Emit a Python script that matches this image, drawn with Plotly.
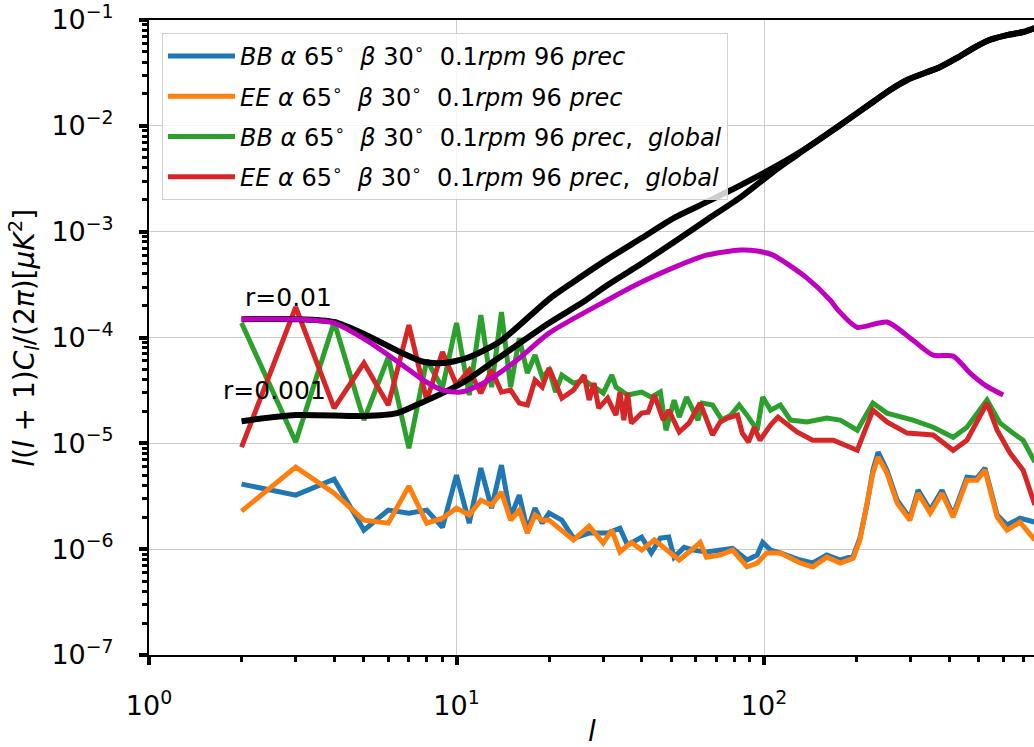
import plotly.graph_objects as go
import math

# ---------------- data ----------------
l_lo = list(range(2, 21))

bb_l = l_lo + [22, 24, 27, 31, 34, 36, 40, 43, 46, 49, 51, 55, 59, 65, 72, 79, 88, 95, 99, 105,
               113, 131, 144, 160, 177, 195, 205, 216, 226, 235, 251, 271, 298, 317, 347, 379,
               412, 457, 493, 523, 573, 617, 680, 760]
bb_v = [4.12e-6, 3.24e-6, 4.59e-6, 1.51e-6, 2.34e-6, 2.19e-6, 2.34e-6, 1.61e-6, 5.01e-6, 1.76e-6,
        5.83e-6, 2.44e-6, 6.22e-6, 2.01e-6, 3.24e-6, 1.51e-6, 2.44e-6, 1.76e-6, 2.19e-6,
        1.88e-6, 1.27e-6, 1.42e-6, 1.42e-6, 1.58e-6, 1.09e-6, 1.30e-6, 9.2e-7, 1.27e-6, 1.30e-6,
        8.4e-7, 1.04e-6, 9.8e-7, 9.4e-7, 9.8e-7, 1.02e-6, 7.9e-7, 8.8e-7, 1.16e-6, 9.8e-7,
        9.2e-7, 7.9e-7, 7.4e-7, 8.8e-7, 7.9e-7, 8.6e-7, 1.27e-6, 2.61e-6, 5.58e-6, 8.25e-6,
        5.58e-6, 2.90e-6, 1.96e-6, 3.61e-6, 2.34e-6, 3.61e-6, 2.10e-6, 4.79e-6, 4.69e-6,
        5.83e-6, 2.10e-6, 1.69e-6, 1.96e-6, 1.80e-6]

ee_l = l_lo + [24, 27, 30, 32, 34, 37, 40, 44, 48, 53, 59, 62, 65, 72, 79, 88, 95, 102, 113,
               131, 144, 160, 177, 195, 205, 216, 226, 235, 251, 271, 298, 317, 347, 379, 412,
               457, 493, 523, 573, 617, 680, 760]
ee_v = [2.29e-6, 5.96e-6, 3.38e-6, 1.88e-6, 1.76e-6, 3.94e-6, 1.76e-6, 1.96e-6, 2.44e-6, 2.10e-6,
        2.90e-6, 2.61e-6, 3.46e-6, 1.88e-6, 2.34e-6, 1.42e-6, 2.10e-6, 1.88e-6, 1.88e-6,
        1.22e-6, 1.65e-6, 1.14e-6, 1.51e-6, 9.4e-7, 1.16e-6, 9.8e-7, 1.22e-6, 9.8e-7, 7.9e-7,
        1.02e-6, 1.16e-6, 8.4e-7, 8.8e-7, 9.8e-7, 6.8e-7, 7.4e-7, 9.2e-7, 9.2e-7, 7.4e-7,
        6.8e-7, 8.4e-7, 7.4e-7, 8.2e-7, 1.22e-6, 2.49e-6, 5.23e-6, 7.41e-6, 5.23e-6, 2.72e-6,
        1.88e-6, 3.38e-6, 2.19e-6, 3.38e-6, 2.01e-6, 4.49e-6, 4.49e-6, 5.58e-6, 2.01e-6,
        1.51e-6, 1.80e-6, 1.22e-6]

bbg_l = l_lo + [21, 22, 24, 26, 28, 30, 32, 33, 36, 40, 43, 46, 48, 51, 53, 56, 61, 63, 68, 73,
                78, 83, 89, 95, 99, 105, 113, 122, 138, 160, 177, 201, 226, 251, 305, 355, 412,
                457, 531, 586, 645, 696, 760]
bbg_v = [1.37e-4, 1.03e-5, 1.40e-4, 1.66e-5, 6.53e-5, 9.0e-6, 6.11e-5, 3.33e-5, 1.37e-4, 2.86e-5,
         1.63e-4, 3.40e-5, 1.74e-4, 3.40e-5, 9.87e-5, 4.61e-5, 6.82e-5, 4.22e-5, 4.92e-5,
         3.05e-5, 4.41e-5, 3.71e-5, 3.95e-5, 3.40e-5, 2.98e-5, 4.41e-5, 3.40e-5, 2.86e-5,
         3.05e-5, 2.73e-5, 3.05e-5, 1.33e-5, 2.56e-5, 1.77e-5, 2.73e-5, 1.66e-5, 2.40e-5,
         2.30e-5, 1.66e-5, 1.85e-5, 2.30e-5, 1.77e-5, 1.33e-5, 2.73e-5, 2.06e-5, 2.30e-5,
         1.66e-5, 1.59e-5, 1.73e-5, 1.66e-5, 1.33e-5, 2.40e-5, 1.93e-5, 1.66e-5, 1.42e-5,
         1.14e-5, 1.42e-5, 2.56e-5, 1.55e-5, 1.25e-5, 1.07e-5, 6.64e-6]

eeg_l = l_lo[:-1] + [20, 21, 22, 24, 26, 27, 28, 29, 31, 33, 34, 35, 36, 37, 40, 42, 44, 47, 49,
                     53, 57, 62, 66, 68, 72, 76, 82, 85, 89, 93, 97, 105, 111, 128, 144, 168,
                     201, 226, 251, 292, 355, 412, 457, 531, 573, 631, 696, 760]
eeg_v = [9.2e-6, 1.94e-4, 2.15e-5, 5.73e-5, 2.30e-5, 1.31e-4, 2.56e-5, 7.28e-5, 3.55e-5, 4.92e-5,
         2.98e-5, 4.92e-5, 3.05e-5, 3.18e-5, 2.40e-5, 2.30e-5, 3.95e-5, 3.40e-5,
         5.14e-5, 3.55e-5, 2.67e-5, 3.18e-5, 4.41e-5, 2.56e-5, 3.71e-5, 2.15e-5, 2.67e-5,
         1.85e-5, 3.05e-5, 1.66e-5, 2.98e-5, 1.55e-5, 1.93e-5, 1.97e-5, 2.86e-5, 1.66e-5,
         2.06e-5, 1.28e-5, 1.55e-5, 2.40e-5, 1.55e-5, 1.20e-5, 1.59e-5, 1.73e-5, 1.85e-5,
         1.25e-5, 1.03e-5, 1.42e-5, 1.07e-5, 1.49e-5, 1.77e-5, 1.28e-5, 1.07e-5, 1.07e-5,
         8.6e-6, 2.06e-5, 1.59e-5, 1.25e-5, 1.20e-5, 8.6e-6, 1.07e-5, 2.40e-5, 1.33e-5,
         8.1e-6, 5.58e-6, 2.61e-6]

# theory BB, r = 0.01 (lensing + tensor)
r01_l = [2, 3, 4, 5.1, 6.55, 7.8, 9, 10.8, 13.8, 20, 24, 31, 40, 51, 65, 84, 107, 138, 177,
         226, 257, 292, 374, 424, 478, 543, 617, 696, 760]
r01_v = [1.49e-4, 1.49e-4, 1.40e-4, 1.05e-4, 7.3e-5, 5.9e-5, 5.73e-5, 6.4e-5, 9.1e-5, 2.31e-4,
         3.35e-4, 5.5e-4, 8.7e-4, 1.35e-3, 1.9e-3, 2.75e-3, 4.0e-3, 6.2e-3, 1.02e-2, 1.68e-2,
         2.18e-2, 2.71e-2, 3.6e-2, 4.38e-2, 5.4e-2, 6.5e-2, 7.2e-2, 7.7e-2, 8.4e-2]

# theory BB, r = 0.001 (lensing + tensor)
r001_l = [2, 3, 5, 6.4, 7.4, 9, 10.8, 13.8, 20, 25.8, 31, 40, 51, 65, 84, 107, 124, 138, 177,
          226, 257, 292, 374, 424, 478, 543, 617, 696, 760]
r001_v = [1.62e-5, 1.85e-5, 1.81e-5, 1.93e-5, 2.3e-5, 2.98e-5, 3.95e-5, 6.5e-5, 1.37e-4,
          2.16e-4, 3.13e-4, 5.0e-4, 8.0e-4, 1.29e-3, 2.12e-3, 3.66e-3, 4.97e-3, 6.2e-3, 1.02e-2,
          1.68e-2, 2.18e-2, 2.71e-2, 3.6e-2, 4.38e-2, 5.4e-2, 6.5e-2, 7.2e-2, 7.7e-2, 8.4e-2]

# primordial tensor BB, r = 0.01
tens_l = [2, 3, 4, 5.1, 6.55, 7.8, 9, 10.3, 12.2, 15.7, 20, 31, 40, 51, 65, 84, 95, 107, 138,
          164, 174, 201, 251, 305, 355, 412, 468, 523, 599]
tens_v = [1.49e-4, 1.49e-4, 1.37e-4, 9.4e-5, 5.7e-5, 3.95e-5, 3.18e-5, 3.05e-5, 3.7e-5, 6.1e-5,
          1.10e-4, 2.26e-4, 3.34e-4, 4.6e-4, 6.0e-4, 6.7e-4, 6.56e-4, 6.0e-4, 3.64e-4, 2.26e-4,
          1.82e-4, 1.25e-4, 1.40e-4, 9.4e-5, 6.8e-5, 6.67e-5, 4.6e-5, 3.55e-5, 2.86e-5]

legend_names = [
    "<i>BB</i> <i>α</i> 65<sup>∘</sup>  <i>β</i> 30<sup>∘</sup>  0.1<i>rpm</i> 96 <i>prec</i>",
    "<i>EE</i> <i>α</i> 65<sup>∘</sup>  <i>β</i> 30<sup>∘</sup>  0.1<i>rpm</i> 96 <i>prec</i>",
    "<i>BB</i> <i>α</i> 65<sup>∘</sup>  <i>β</i> 30<sup>∘</sup>  0.1<i>rpm</i> 96 <i>prec</i>,  <i>global</i>",
    "<i>EE</i> <i>α</i> 65<sup>∘</sup>  <i>β</i> 30<sup>∘</sup>  0.1<i>rpm</i> 96 <i>prec</i>,  <i>global</i>",
]

y_tickvals = [1e-7, 1e-6, 1e-5, 1e-4, 1e-3, 1e-2, 1e-1]
y_ticktext = ["10<sup>−7</sup>", "10<sup>−6</sup>", "10<sup>−5</sup>", "10<sup>−4</sup>",
              "10<sup>−3</sup>", "10<sup>−2</sup>", "10<sup>−1</sup>"]
x_tickvals = [1, 10, 100]
x_ticktext = ["10<sup>0</sup>", "10<sup>1</sup>", "10<sup>2</sup>"]

x_title = "<i>l</i>"
y_title = "<i>l</i>(<i>l</i> + 1)<i>C<sub>l</sub></i>/(2<i>π</i>)[<i>μK</i><sup>2</sup>]"

FONT = "DejaVu Sans"

fig = go.Figure()

series = [
    (bb_l, bb_v, "#1f77b4", legend_names[0]),
    (ee_l, ee_v, "#ff7f0e", legend_names[1]),
    (bbg_l, bbg_v, "#2ca02c", legend_names[2]),
    (eeg_l, eeg_v, "#d62728", legend_names[3]),
]
for i, (xs, ys, col, nm) in enumerate(series):
    fig.add_trace(go.Scatter(x=xs, y=ys, mode="lines", name=nm,
                             line=dict(color=col, width=5),
                             legendgroup=f"g{i}"))

fig.add_trace(go.Scatter(x=r01_l, y=r01_v, mode="lines", showlegend=False,
                         line=dict(color="black", width=6, shape="spline", smoothing=0.7)))
fig.add_trace(go.Scatter(x=r001_l, y=r001_v, mode="lines", showlegend=False,
                         line=dict(color="black", width=6, shape="spline", smoothing=0.7)))
fig.add_trace(go.Scatter(x=tens_l, y=tens_v, mode="lines", showlegend=False,
                         line=dict(color="#bf00bf", width=5, shape="spline", smoothing=0.7)))

minor_x = [m * 10 ** e for e in range(0, 3) for m in range(2, 10)]
minor_y = [m * 10 ** e for e in range(-7, -1) for m in range(2, 10)]

fig.update_layout(
    width=1034, height=747,
    margin=dict(l=149, r=0, t=20, b=92),
    plot_bgcolor="white", paper_bgcolor="white",
    font=dict(family=FONT, color="black"),
    showlegend=True,
    legend=dict(x=0.0147, y=0.9795, xanchor="left", yanchor="top",
                bgcolor="rgba(255,255,255,0.8)", bordercolor="#d0d0d0", borderwidth=1,
                font=dict(family=FONT, size=24, color="black"),
                tracegroupgap=6, itemwidth=67, traceorder="grouped"),
    xaxis=dict(type="log", range=[0, math.log10(755)], automargin=False,
               tickmode="array", tickvals=x_tickvals, ticktext=x_ticktext,
               ticks="outside", ticklen=8, tickwidth=3.5, tickcolor="black",
               ticklabelstandoff=18,
               tickfont=dict(family=FONT, size=27, color="black"),
               showline=True, linecolor="black", linewidth=2, mirror=True,
               showgrid=True, gridcolor="#cccccc", gridwidth=1, zeroline=False,
               minor=dict(tickmode="array", tickvals=minor_x, ticks="outside", ticklen=5,
                          tickwidth=3, tickcolor="black", showgrid=False)),
    yaxis=dict(type="log", range=[-7, -1], automargin=False,
               tickmode="array", tickvals=y_tickvals, ticktext=y_ticktext,
               ticks="outside", ticklen=8, tickwidth=3.5, tickcolor="black",
               ticklabelstandoff=20,
               tickfont=dict(family=FONT, size=27, color="black"),
               showline=True, linecolor="black", linewidth=2, mirror=False,
               showgrid=True, gridcolor="#cccccc", gridwidth=1, zeroline=False,
               minor=dict(tickmode="array", tickvals=minor_y, ticks="outside", ticklen=5,
                          tickwidth=3, tickcolor="black", showgrid=False)),
    annotations=[
        dict(x=math.log10(2.02), y=-3.618, xref="x", yref="y", text="r=0.01",
             showarrow=False, xanchor="left", yanchor="middle",
             font=dict(family=FONT, size=25, color="black")),
        dict(x=math.log10(1.71), y=-4.497, xref="x", yref="y", text="r=0.001",
             showarrow=False, xanchor="left", yanchor="middle",
             font=dict(family=FONT, size=25, color="black")),
        dict(x=0.5, y=-0.1197, xref="paper", yref="paper", text=x_title,
             showarrow=False, xanchor="center", yanchor="middle",
             font=dict(family=FONT, size=28, color="black")),
        dict(x=-0.1414, y=0.4992, xref="paper", yref="paper", text=y_title,
             showarrow=False, xanchor="center", yanchor="middle", textangle=-90,
             font=dict(family=FONT, size=28, color="black")),
    ],
)

fig.write_html("out.html", config={"displayModeBar": False},
               post_script="document.body.style.margin='0';document.body.style.padding='0';")
